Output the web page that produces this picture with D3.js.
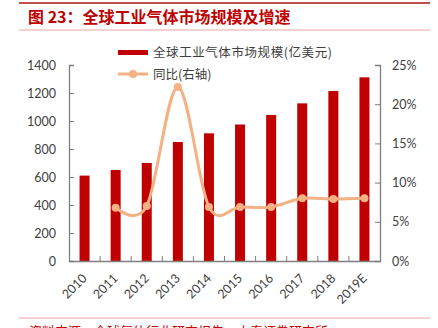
<!DOCTYPE html>
<html><head><meta charset="utf-8">
<script src="https://cdn.jsdelivr.net/npm/d3@7"></script>
<style>
html,body{margin:0;padding:0;background:#fff;}
svg{display:block;}
</style></head>
<body>
<svg id="c" width="438" height="328"></svg>
<script>
const categories = ["2010","2011","2012","2013","2014","2015","2016","2017","2018","2019E"];
const marketSize = [610, 650, 700, 850, 912, 975, 1043, 1126, 1214, 1312];
const yoyYears = ["2011","2012","2013","2014","2015","2016","2017","2018","2019E"];
const yoyPct = [6.8, 7.0, 22.2, 6.9, 6.9, 6.9, 8.0, 7.9, 8.0];
const leftTicks = [0,200,400,600,800,1000,1200,1400];
const rightTicks = [0,5,10,15,20,25];
const titleText = "图 23：全球工业气体市场规模及增速";
const legendBar = "全球工业气体市场规模(亿美元)";
const legendLine = "同比(右轴)";
const sourceText = "资料来源：全球气体行业研究报告，中泰证券研究所";

const svg = d3.select("#c");
const L = 69, R = 380, T = 65, B = 261;
const x = d3.scaleBand().domain(categories).range([L, R]).paddingInner(0).paddingOuter(0);
const yL = d3.scaleLinear().domain([0,1400]).range([B, T]);
const yR = d3.scaleLinear().domain([0,25]).range([B, T]);
const numFont = "Lato, 'Open Sans', sans-serif";
const cjk = "'Noto Sans CJK SC', sans-serif";

// header lines
svg.append("line").attr("x1",19).attr("x2",430).attr("y1",3).attr("y2",3).attr("stroke","#c0504d").attr("stroke-width",2);
svg.append("text").attr("x",28).attr("y",23).attr("fill","#c00000").attr("font-family",cjk).attr("font-weight","bold").attr("font-size",16).text(titleText);
svg.append("line").attr("x1",19).attr("x2",430).attr("y1",30).attr("y2",30).attr("stroke","#e8a4a4").attr("stroke-width",1);

// bars
const bw = 10;
svg.append("g").selectAll("rect").data(categories).join("rect")
  .attr("x", (d)=> x(d) + x.bandwidth()/2 - bw/2)
  .attr("width", bw)
  .attr("y", (d,i)=> yL(marketSize[i]))
  .attr("height", (d,i)=> B - yL(marketSize[i]))
  .attr("fill","#c00000");

// left axis
const axL = svg.append("g").attr("transform",`translate(${L},0)`)
  .call(d3.axisLeft(yL).tickValues(leftTicks).tickSize(-5).tickPadding(13).tickFormat(d3.format("d")));
// right axis
const axR = svg.append("g").attr("transform",`translate(${R},0)`)
  .call(d3.axisRight(yR).tickValues(rightTicks).tickSize(-5).tickPadding(12).tickFormat(d=>d+"%"));
// bottom axis
const axB = svg.append("g").attr("transform",`translate(0,${B})`)
  .call(d3.axisBottom(x).tickSize(0).tickPadding(0));
[axL,axR,axB].forEach(a=>{
  a.select(".domain").attr("stroke","#7f7f7f").attr("stroke-width",1.3);
  a.selectAll(".tick line").attr("stroke","#7f7f7f").attr("stroke-width",1);
  a.selectAll("text").attr("font-family",numFont).attr("font-size",12.5).attr("fill","#404040");
});
axB.selectAll(".tick text")
  .attr("text-anchor","end")
  .attr("x",0).attr("y",0).attr("dy","0.35em")
  .attr("transform","translate(0,15) rotate(-45)");
// category boundary ticks (inward)
svg.append("g").selectAll("line").data(categories.slice(1)).join("line")
  .attr("x1", d=>x(d)).attr("x2", d=>x(d))
  .attr("y1", B).attr("y2", B-5)
  .attr("stroke","#7f7f7f").attr("stroke-width",1);

// line
const lineColor = "#f4b183";
const pts = yoyYears.map((c,i)=>[x(c)+x.bandwidth()/2, yR(yoyPct[i])]);
svg.append("path").attr("d", d3.line().curve(d3.curveCardinal.tension(0))(pts))
  .attr("fill","none").attr("stroke",lineColor).attr("stroke-width",3);
svg.append("g").selectAll("circle").data(pts).join("circle")
  .attr("cx",d=>d[0]).attr("cy",d=>d[1]).attr("r",4).attr("fill",lineColor);

// legend
const lg = svg.append("g");
lg.append("rect").attr("x",118).attr("y",50).attr("width",30).attr("height",5).attr("fill","#c00000");
lg.append("text").attr("x",153).attr("y",57).attr("font-family",cjk).attr("font-size",12.5).attr("fill","#404040").attr("textLength",179).text(legendBar);
lg.append("line").attr("x1",118).attr("x2",148).attr("y1",74).attr("y2",74).attr("stroke",lineColor).attr("stroke-width",3);
lg.append("circle").attr("cx",133).attr("cy",74).attr("r",4).attr("fill",lineColor);
lg.append("text").attr("x",153).attr("y",79).attr("font-family",cjk).attr("font-size",12.5).attr("fill","#404040").text(legendLine);

// footer
svg.append("line").attr("x1",19).attr("x2",430).attr("y1",318).attr("y2",318).attr("stroke","#e8a4a4").attr("stroke-width",1);
svg.append("text").attr("x",29).attr("y",336).attr("fill","#c00000").attr("font-family",cjk).attr("font-size",13).text(sourceText);
</script>
</body></html>
